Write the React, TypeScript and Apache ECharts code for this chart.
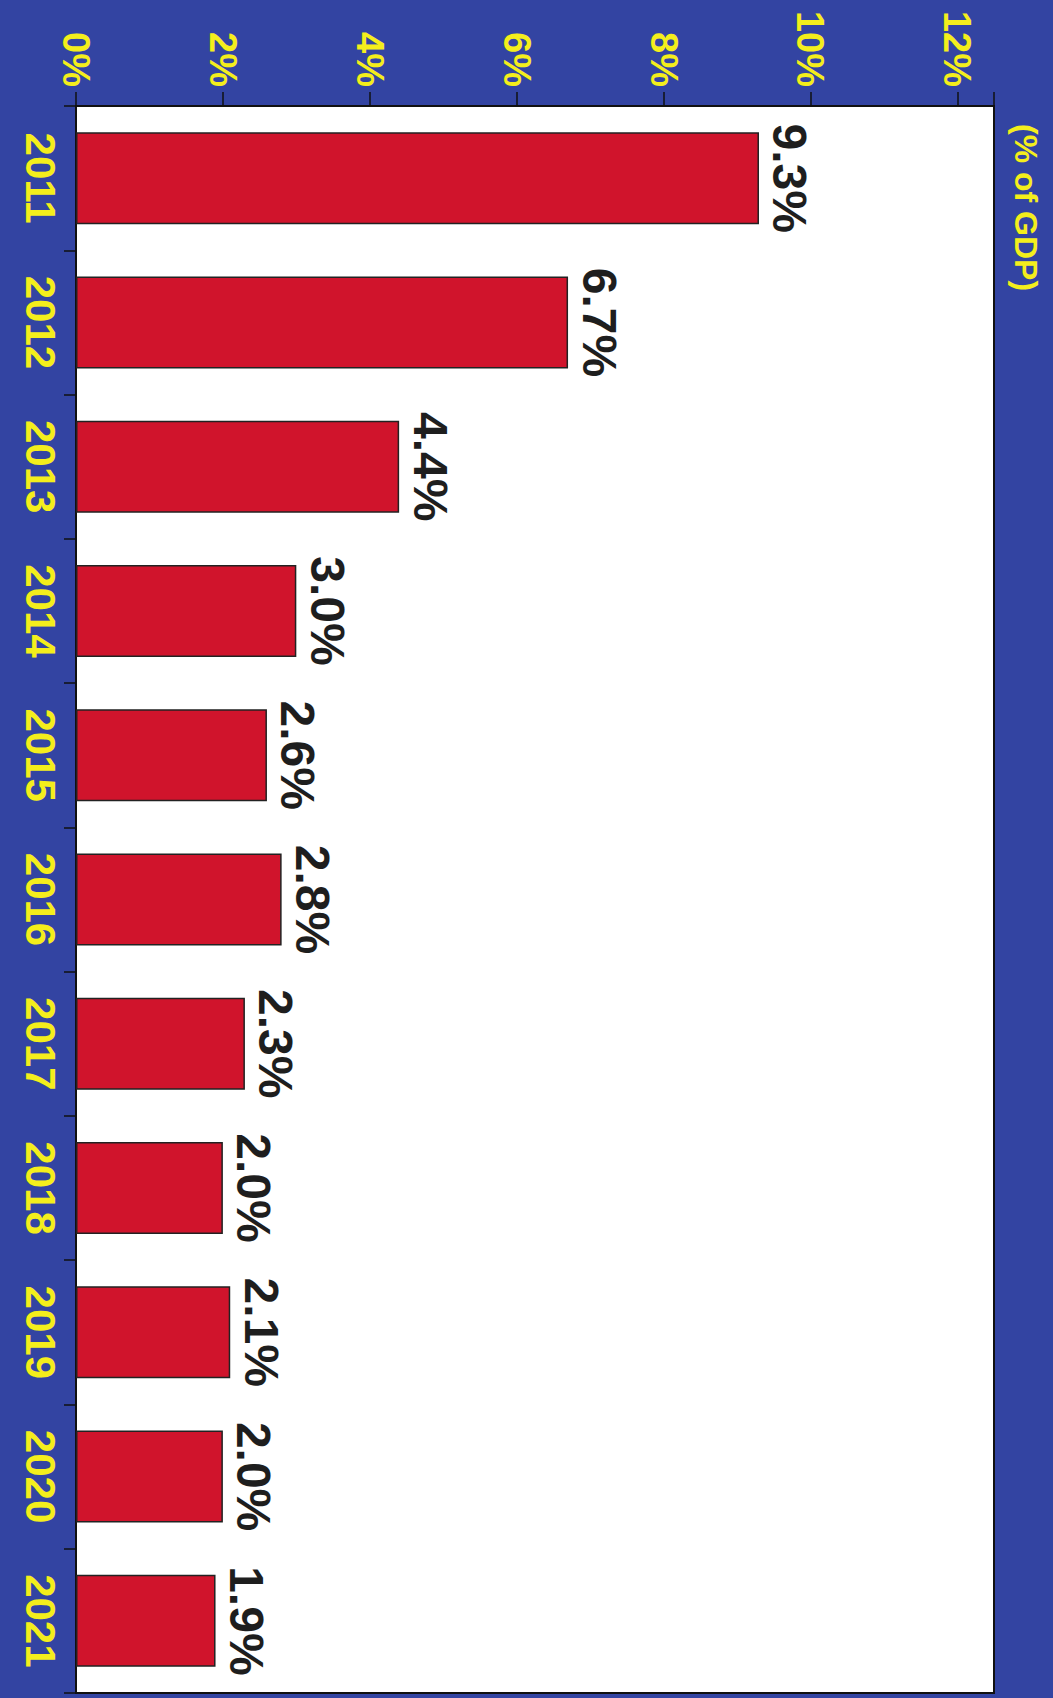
import React, { useEffect, useRef } from "react";
import * as echarts from "echarts";

const years = ["2011", "2012", "2013", "2014", "2015", "2016", "2017", "2018", "2019", "2020", "2021"];
const deficitPct = [9.3, 6.7, 4.4, 3.0, 2.6, 2.8, 2.3, 2.0, 2.1, 2.0, 1.9];
const axisTitle = "(% of GDP)";

const FONT = '"Liberation Sans", Arial, Helvetica, sans-serif';
const YELLOW = "#f4ee1c";
const BLUE = "#3344a2";

export default function App() {
  const ref = useRef<HTMLDivElement>(null);
  useEffect(() => {
    if (!ref.current) return;
    const chart = echarts.init(ref.current, undefined, { renderer: "svg" });
    chart.setOption({
      animation: false,
      backgroundColor: BLUE,
      textStyle: { fontFamily: FONT },
      grid: {
        left: 76,
        right: 59,
        top: 106,
        bottom: 5,
        show: true,
        backgroundColor: "#ffffff",
        borderColor: "#111111",
        borderWidth: 2,
        containLabel: false,
      },
      xAxis: {
        type: "value",
        position: "top",
        min: 0,
        max: 12.5,
        interval: 2,
        splitLine: { show: false },
        axisLine: { show: true, lineStyle: { color: "#111", width: 2 } },
        axisTick: { show: true, length: 14, lineStyle: { color: "#111", width: 1.5 } },
        axisLabel: {
          rotate: 90,
          align: "right",
          verticalAlign: "middle",
          margin: 19,
          color: YELLOW,
          fontFamily: FONT,
          fontWeight: "bold",
          fontSize: 38,
          formatter: (v: number) => (Math.abs(v % 2) < 1e-9 ? `${v}%` : ""),
        },
      },
      yAxis: {
        type: "category",
        inverse: true,
        data: years,
        axisLine: { show: true, lineStyle: { color: "#111", width: 2 } },
        axisTick: { show: true, length: 12, lineStyle: { color: "#111", width: 1.5 } },
        axisLabel: {
          rotate: -90,
          align: "center",
          verticalAlign: "top",
          margin: 15,
          color: YELLOW,
          fontFamily: FONT,
          fontWeight: "bold",
          fontSize: 42,
        },
      },
      series: [
        {
          type: "bar",
          data: deficitPct,
          barWidth: 92,
          itemStyle: { color: "#d0142c", borderColor: "#222", borderWidth: 1.5 },
          label: {
            show: true,
            position: "right",
            distance: 7,
            rotate: -90,
            align: "center",
            verticalAlign: "bottom",
            color: "#1e1e1e",
            fontFamily: FONT,
            fontWeight: "bold",
            fontSize: 48,
            formatter: (p: any) => `${Number(p.value).toFixed(1)}%`,
          },
        },
      ],
      graphic: [
        {
          type: "text",
          x: 1026,
          y: 124,
          rotation: -Math.PI / 2,
          style: {
            text: axisTitle,
            fill: YELLOW,
            font: `bold 32px ${FONT}`,
            textAlign: "left",
            textVerticalAlign: "middle",
          },
        },
      ],
    });
    return () => chart.dispose();
  }, []);
  return (
    <div
      ref={ref}
      style={{ position: "absolute", left: 0, top: 0, width: 1053, height: 1698 }}
    />
  );
}
